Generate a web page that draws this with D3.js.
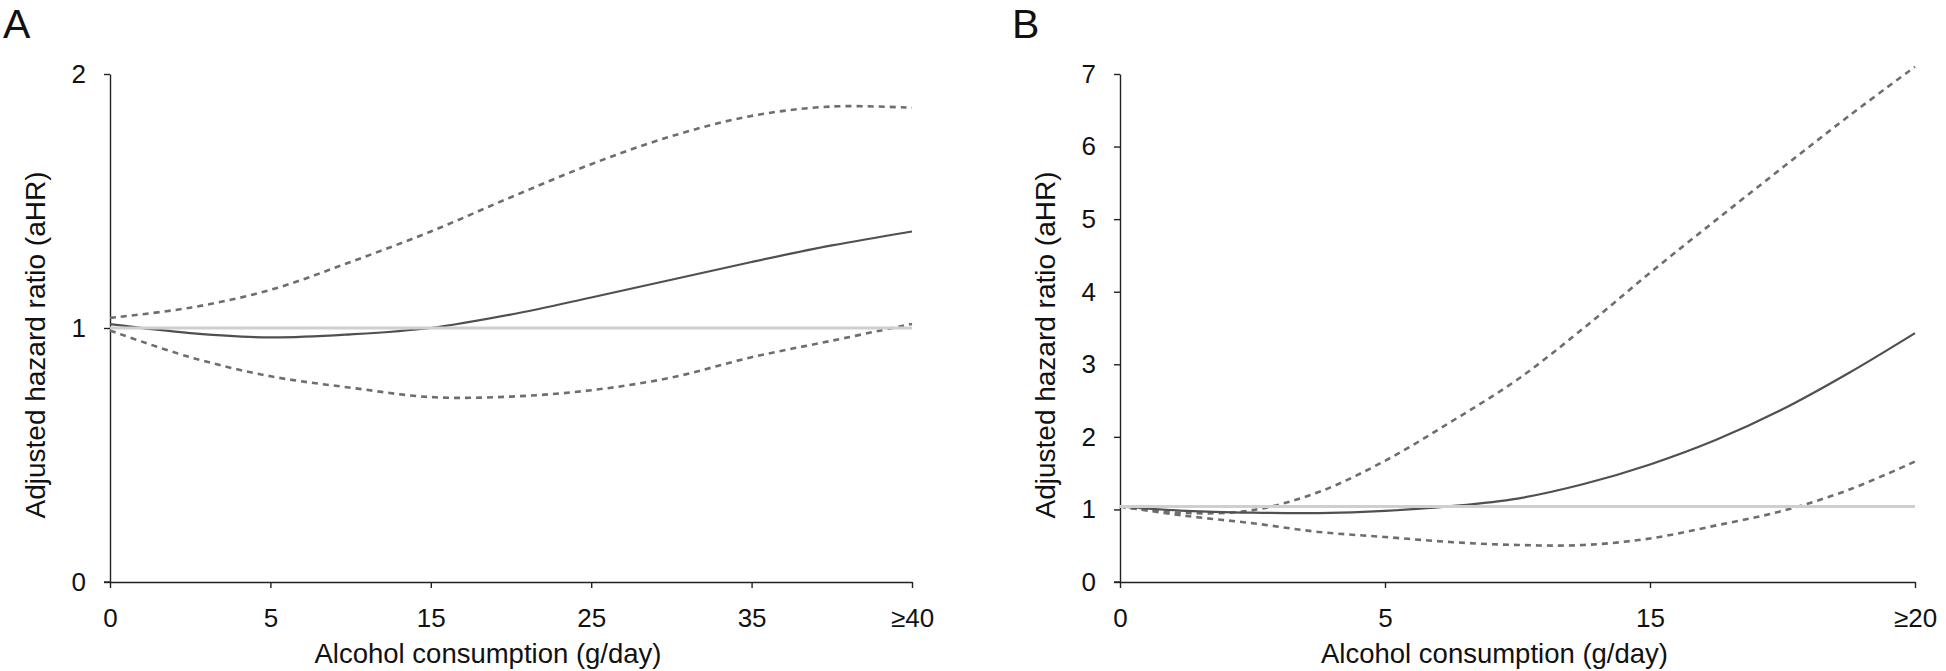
<!DOCTYPE html>
<html>
<head>
<meta charset="utf-8">
<script src="https://cdn.jsdelivr.net/npm/d3@7"></script>
<style>
  html, body { margin: 0; padding: 0; background: #fff; }
  svg { display: block; }
  .tick text { font-family: "Liberation Sans", Arial, sans-serif; fill: #111; }
</style>
</head>
<body>
<svg id="chart" width="1946" height="671"></svg>
<script>
// ---------- Panel A data ----------
const xTicksA = [0, 5, 15, 25, 35, 40];
const xLabelsA = ["0", "5", "15", "25", "35", "\u226540"];
const yTicksA = [0, 1, 2];
const gA   = [0, 2.5, 5, 10, 15, 20, 25, 30, 35, 37.5, 40];
const estA = [1.015, 0.98, 0.963, 0.975, 1.0, 1.053, 1.12, 1.19, 1.26, 1.325, 1.38];
const upA  = [1.04, 1.08, 1.15, 1.26, 1.38, 1.515, 1.645, 1.755, 1.835, 1.872, 1.867];
const loA  = [0.99, 0.885, 0.81, 0.765, 0.728, 0.73, 0.755, 0.805, 0.885, 0.95, 1.016];
const refA = 1;

// ---------- Panel B data ----------
const xTicksB = [0, 5, 15, 20];
const xLabelsB = ["0", "5", "15", "\u226520"];
const yTicksB = [0, 1, 2, 3, 4, 5, 6, 7];
const gB   = [0, 1.25, 2.5, 3.75, 5, 7.5, 10, 12.5, 15, 16.25, 17.5, 18.75, 20];
const estB = [1.04, 0.98, 0.955, 0.95, 0.98, 1.045, 1.15, 1.35, 1.62, 1.96, 2.38, 2.88, 3.43];
const upB  = [1.04, 0.95, 0.99, 1.24, 1.67, 2.21, 2.79, 3.5, 4.26, 4.99, 5.71, 6.42, 7.1];
const loB  = [1.04, 0.91, 0.81, 0.69, 0.62, 0.55, 0.51, 0.51, 0.60, 0.78, 0.98, 1.27, 1.66];
const refB = 1.04;

const xTitle = "Alcohol consumption (g/day)";
const yTitle = "Adjusted hazard ratio (aHR)";

const svg = d3.select("#chart");

function panel(opts) {
  const { left, right, top, bottom, xTicks, xLabels, yTicks, yMax, g, est, up, lo, ref, letter, letterX } = opts;
  const n = xTicks.length;
  const x = d3.scaleLinear()
    .domain(xTicks)
    .range(xTicks.map((d, i) => left + i * (right - left) / (n - 1)));
  const y = d3.scaleLinear().domain([0, yMax]).range([bottom, top]);

  const root = svg.append("g");

  // axes
  const ya = root.append("g").attr("transform", `translate(${left},0)`)
    .call(d3.axisLeft(y).tickValues(yTicks).tickFormat(d3.format("d")).tickSize(6).tickSizeOuter(0).tickPadding(18));
  const xa = root.append("g").attr("transform", `translate(0,${bottom})`)
    .call(d3.axisBottom(x).tickValues(xTicks).tickFormat((d, i) => xLabels[i]).tickSize(6).tickSizeOuter(0).tickPadding(21));
  [ya, xa].forEach(a => {
    a.selectAll("path.domain").attr("stroke", "#222").attr("stroke-width", 1.4);
    a.selectAll(".tick line").attr("stroke", "#222").attr("stroke-width", 1.4);
    a.selectAll(".tick text").attr("font-size", 26);
  });
  root.append("line")
    .attr("x1", left - 6).attr("x2", left).attr("y1", bottom).attr("y2", bottom)
    .attr("stroke", "#222").attr("stroke-width", 1.4);

  const pts = arr => g.map((gv, i) => ({ g: gv, v: arr[i] }));
  const line = d3.line().x(d => x(d.g)).y(d => y(d.v)).curve(d3.curveCatmullRom.alpha(0.5));

  // confidence bounds
  [up, lo].forEach(arr => {
    root.append("path").datum(pts(arr))
      .attr("d", line)
      .attr("fill", "none")
      .attr("stroke", "#6e6e6e")
      .attr("stroke-width", 2.6)
      .attr("stroke-dasharray", "6,5");
  });
  // estimate
  root.append("path").datum(pts(est))
    .attr("d", line)
    .attr("fill", "none")
    .attr("stroke", "#505050")
    .attr("stroke-width", 2.2);

  // reference line
  root.append("line")
    .attr("x1", x(xTicks[0])).attr("x2", x(xTicks[n - 1]))
    .attr("y1", y(ref)).attr("y2", y(ref))
    .attr("stroke", "#cfcfcf").attr("stroke-width", 3);

  // titles
  root.append("text")
    .attr("x", (left + right) / 2 - 23).attr("y", 663)
    .attr("text-anchor", "middle")
    .attr("font-family", "Liberation Sans, Arial, sans-serif")
    .attr("font-size", 27.5).attr("fill", "#111")
    .text(xTitle);
  root.append("text")
    .attr("transform", `translate(${left - 65},345) rotate(-90)`)
    .attr("text-anchor", "middle")
    .attr("font-family", "Liberation Sans, Arial, sans-serif")
    .attr("font-size", 28).attr("fill", "#111")
    .text(yTitle);

  root.append("text")
    .attr("x", letterX).attr("y", 38)
    .attr("font-family", "Liberation Sans, Arial, sans-serif")
    .attr("font-size", 41).attr("fill", "#111")
    .text(letter);
}

panel({ left: 110, right: 912, top: 74, bottom: 582, xTicks: xTicksA, xLabels: xLabelsA, yTicks: yTicksA, yMax: 2,
        g: gA, est: estA, up: upA, lo: loA, ref: refA, letter: "A", letterX: 3 });
panel({ left: 1120, right: 1915, top: 74, bottom: 582, xTicks: xTicksB, xLabels: xLabelsB, yTicks: yTicksB, yMax: 7,
        g: gB, est: estB, up: upB, lo: loB, ref: refB, letter: "B", letterX: 1012 });
</script>
</body>
</html>
